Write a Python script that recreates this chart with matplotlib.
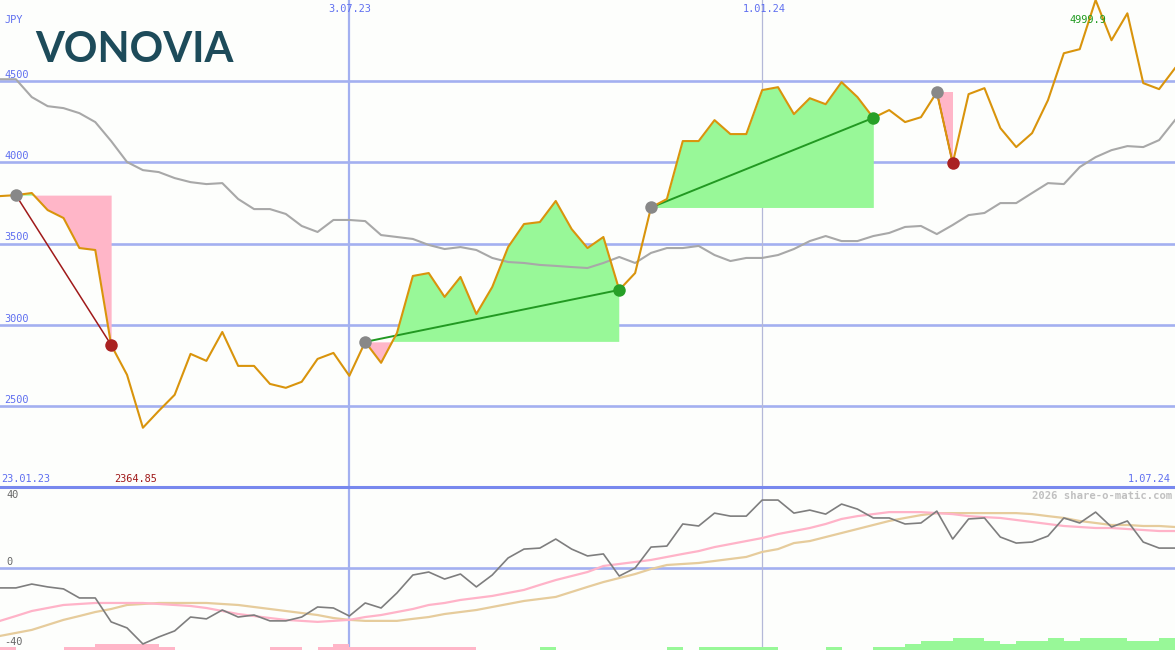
import matplotlib
matplotlib.use('Agg')
import matplotlib.pyplot as plt
import numpy as np
import pandas as pd

# weekly closes, 30.01.23 .. 1.07.24
dates = pd.date_range('2023-01-30', periods=75, freq='7D')

close = [3792, 3798, 3811, 3706, 3657, 3472, 3460, 2875, 2691, 2365,
         2469, 2568, 2820, 2777, 2955, 2746, 2746, 2635, 2611, 2648,
         2789, 2826, 2685, 2894, 2765, 2949, 3300, 3318, 3171, 3294,
         3066, 3232, 3478, 3620, 3632, 3762, 3589, 3472, 3540, 3214,
         3318, 3722, 3774, 4131, 4131, 4260, 4174, 4174, 4445, 4463,
         4297, 4395, 4358, 4494, 4402, 4274, 4322, 4248, 4278, 4432,
         3995, 4420, 4457, 4211, 4094, 4180, 4383, 4672, 4697, 4999.9,
         4752, 4918, 4488, 4451, 4580]

ma = [4512, 4512, 4402, 4346, 4334, 4303, 4248, 4131, 4002, 3952,
      3940, 3903, 3878, 3866, 3872, 3774, 3712, 3712, 3682, 3608,
      3571, 3645, 3645, 3638, 3552, 3540, 3528, 3491, 3466, 3478,
      3460, 3411, 3386, 3380, 3368, 3362, 3355, 3349, 3380, 3417,
      3380, 3442, 3472, 3472, 3485, 3429, 3392, 3411, 3411, 3429,
      3466, 3515, 3546, 3515, 3515, 3546, 3565, 3602, 3608, 3558,
      3614, 3675, 3688, 3749, 3749, 3811, 3872, 3866, 3971, 4032,
      4075, 4100, 4094, 4137, 4260]

osc = [-11.9, -11.9, -9.6, -11.3, -12.5, -17.9, -17.9, -32.2, -35.8, -45.4,
       -41.2, -37.6, -29.3, -30.4, -25.1, -29.3, -28.1, -31.6, -31.6, -29.3,
       -23.3, -23.9, -28.7, -20.9, -23.9, -14.9, -4.2, -2.4, -6.6, -3.6,
       -11.3, -4.2, 6.0, 11.3, 11.9, 17.3, 11.3, 7.2, 8.4, -4.8,
       0.0, 12.5, 13.1, 26.3, 25.1, 32.8, 31.0, 31.0, 40.6, 40.6,
       32.8, 34.6, 32.2, 38.2, 35.2, 29.9, 29.9, 26.3, 26.9, 34.0,
       17.3, 29.3, 29.9, 18.5, 14.9, 15.5, 19.1, 29.9, 26.9, 33.4,
       24.5, 28.1, 15.5, 11.9, 11.9]

osc_fast = [-31.6, -28.7, -25.7, -23.9, -22.1, -21.5, -20.9, -20.9, -20.9, -20.9,
            -21.5, -22.1, -22.7, -23.9, -25.7, -27.5, -28.7, -29.9, -31.0, -31.6,
            -32.2, -31.6, -31.0, -29.3, -28.1, -26.3, -24.5, -22.1, -20.9, -19.1,
            -17.9, -16.7, -14.9, -13.1, -10.1, -7.2, -4.8, -2.4, 1.2, 2.4,
            3.6, 4.8, 6.6, 8.4, 10.1, 12.5, 14.3, 16.1, 17.9, 20.3,
            22.1, 23.9, 26.3, 29.3, 31.0, 32.2, 33.4, 33.4, 33.4, 32.8,
            32.2, 31.0, 30.4, 29.9, 28.7, 27.5, 26.3, 25.1, 24.5, 23.9,
            23.9, 23.3, 22.7, 22.1, 22.1]

osc_slow = [-40.6, -38.8, -37.0, -34.0, -31.0, -28.7, -26.3, -24.5, -22.1, -21.5,
            -20.9, -20.9, -20.9, -20.9, -21.5, -22.1, -23.3, -24.5, -25.7, -26.9,
            -28.1, -29.9, -31.0, -31.6, -31.6, -31.6, -30.4, -29.3, -27.5, -26.3,
            -25.1, -23.3, -21.5, -19.7, -18.5, -17.3, -14.3, -11.3, -8.4, -6.0,
            -3.6, -0.6, 1.8, 2.4, 3.0, 4.2, 5.4, 6.6, 9.6, 11.3,
            14.9, 16.1, 18.5, 20.9, 23.3, 25.7, 28.1, 29.9, 31.6, 32.8,
            32.8, 32.8, 32.8, 32.8, 32.8, 32.2, 31.0, 29.9, 28.1, 26.9,
            25.7, 25.7, 25.1, 25.1, 24.5]

# signal strength bars (negative = pink, positive = green)
bars = [-1, 0, 0, 0, -1, -1, -2, -2, -2, -2,
        -1, 0, 0, 0, 0, 0, 0, -1, -1, 0,
        -1, -2, -1, -1, -1, -1, -1, -1, -1, -1,
        0, 0, 0, 0, 1, 0, 0, 0, 0, 0,
        0, 0, 1, 0, 1, 1, 1, 1, 1, 0,
        0, 0, 1, 0, 0, 1, 1, 2, 3, 3,
        4, 4, 3, 2, 3, 3, 4, 3, 4, 4,
        4, 3, 3, 4, 4]

# trades: (entry index, exit index)
trades = [(1, 7), (23, 39), (41, 55), (59, 60)]

BG = '#fdfefc'
GRID = '#a3b0f0'
ORANGE = '#d9940c'
GREENFILL = '#98f898'
PINKFILL = '#ffb6c8'
MONO = 'DejaVu Sans Mono'

close = np.array(close)
fig = plt.figure(figsize=(11.75, 6.5), dpi=100, facecolor=BG)
ax = fig.add_axes([0, 163 / 650, 1, 487 / 650])
ax2 = fig.add_axes([0, 0, 1, 163 / 650])
for a in (ax, ax2):
    a.set_facecolor(BG)
    a.axis('off')
    a.set_xlim(dates[0], dates[-1])

# main panel
ax.set_ylim(2000, 5000)
for lvl in [2500, 3000, 3500, 4000, 4500]:
    ax.axhline(lvl, color=GRID, lw=1.9, zorder=1)
ax.axvline(pd.Timestamp('2023-07-03'), color=GRID, lw=1.6, zorder=1)
ax.axvline(pd.Timestamp('2024-01-01'), color='#b4b8d8', lw=0.9, zorder=1)

for i0, i1 in trades:
    xs = dates[i0:i1 + 1]
    c = close[i0:i1 + 1]
    entry = close[i0]
    ax.fill_between(xs, entry, c, where=c >= entry, interpolate=True,
                    color=GREENFILL, lw=0, zorder=2)
    ax.fill_between(xs, entry, c, where=c < entry, interpolate=True,
                    color=PINKFILL, lw=0, zorder=2)

ax.plot(dates, ma, color='#a8a8a8', lw=1.5, zorder=3)

for i0, i1 in trades:
    win = close[i1] > close[i0]
    col = '#229922' if win else '#a01a1a'
    ax.plot([dates[i0], dates[i1]], [close[i0], close[i1]], color=col,
            lw=1.4 if win else 1.1, zorder=4)

ax.plot(dates, close, color=ORANGE, lw=1.5, zorder=5)

for i0, i1 in trades:
    win = close[i1] > close[i0]
    ax.plot(dates[i0], close[i0], 'o', color='#888888', ms=9, mec='none', zorder=6)
    ax.plot(dates[i1], close[i1], 'o', color='#27a027' if win else '#aa2222',
            ms=9, mec='none', zorder=6)

# lower panel
ax2.set_ylim(-49, 48.4)
ax2.axhline(0, color=GRID, lw=1.9, zorder=1)
ax2.axvline(pd.Timestamp('2023-07-03'), color=GRID, lw=1.6, zorder=1)
ax2.axvline(pd.Timestamp('2024-01-01'), color='#b4b8d8', lw=0.9, zorder=1)
bar_unit = 3 * 40 / 67
bvals = np.array(bars)
ax2.bar(dates, np.abs(bvals) * bar_unit, bottom=-49, width=7, align='edge',
        color=[GREENFILL if b > 0 else PINKFILL for b in bvals], lw=0, zorder=2)
ax2.plot(dates, osc_slow, color='#e6cc9c', lw=1.6, zorder=3)
ax2.plot(dates, osc_fast, color='#ffb3c8', lw=1.6, zorder=3)
ax2.plot(dates, osc, color='#7e7e7e', lw=1.2, zorder=4)

fig.add_artist(plt.Line2D([0, 1], [163 / 650, 163 / 650], transform=fig.transFigure,
                          color='#7888ee', lw=2.2))


def px(x, y, s, color, ha='left', size=7.4, **kw):
    fig.text(x / 1175, 1 - y / 650, s, color=color, ha=ha, va='center',
             fontsize=size, family=MONO, **kw)


blue = '#5f6ff0'
px(4, 20, 'JPY', blue)
for lvl, yy in [(4500, 75), (4000, 156), (3500, 237), (3000, 319), (2500, 400)]:
    px(4, yy, str(lvl), blue)
px(350, 9, '3.07.23', blue, ha='center')
px(764, 9, '1.01.24', blue, ha='center')
px(1, 479, '23.01.23', blue)
px(1171, 479, '1.07.24', blue, ha='right')
px(114, 479, '2364.85', '#a01a1a')
px(1069, 20, '4999.9', '#1f9a1f')
px(6, 495, '40', '#666666')
px(6, 562, '0', '#666666')
px(4, 642, '-40', '#666666')
px(1172, 496, '2026 share-o-matic.com', '#c0c0c0', ha='right', size=7.6, weight='bold')

fig.text(35 / 1175, 1 - 50 / 650, 'VONOVIA', color='#1d4b5a', fontsize=30,
         family='Lato', weight='bold', va='center', ha='left')

fig.savefig('out.png', dpi=100, facecolor=BG)
